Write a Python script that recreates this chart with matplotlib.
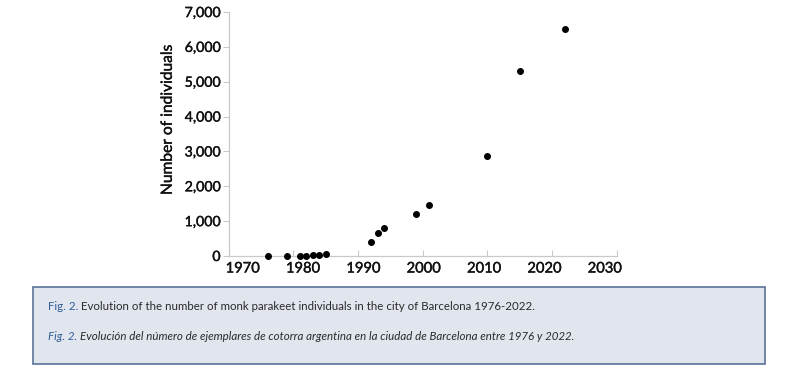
import matplotlib.pyplot as plt
import matplotlib.transforms as mtransforms
import matplotlib.patheffects as pe
from matplotlib.patches import Rectangle

years = [1976, 1979, 1981, 1982, 1983, 1984, 1985, 1992, 1993, 1994,
         1999, 2001, 2010, 2015, 2022]
counts = [10, 10, 10, 12, 18, 35, 60, 400, 660, 810,
          1200, 1460, 2880, 5300, 6500]
xticks = [1970, 1980, 1990, 2000, 2010, 2020, 2030]
yticks = [0, 1000, 2000, 3000, 4000, 5000, 6000, 7000]

caption_en = "Evolution of the number of monk parakeet individuals in the city of Barcelona 1976-2022."
caption_es = "Evolución del número de ejemplares de cotorra argentina en la ciudad de Barcelona entre 1976 y 2022."

plt.rcParams['font.family'] = ['Lato', 'DejaVu Sans']

fig = plt.figure(figsize=(8, 3.77), dpi=100)
ax = fig.add_axes([0.286, 0.321, 0.485, 0.647])

ax.scatter(years, counts, s=16, color='black', zorder=3, clip_on=False)
ax.set_xlim(1970, 2030)
ax.set_ylim(0, 7000)
ax.set_xticks(xticks)
ax.set_yticks(yticks)
ax.set_yticklabels([f'{v:,}' for v in yticks])
for s in ['top', 'right']:
    ax.spines[s].set_visible(False)
for s in ['left', 'bottom']:
    ax.spines[s].set_color('#c9c9c9')
    ax.spines[s].set_linewidth(0.9)
ax.tick_params(axis='y', colors='#c9c9c9', labelcolor='#111111', length=4,
               labelsize=10.2, pad=2)
ax.tick_params(axis='x', colors='#c9c9c9', labelcolor='#111111', length=4,
               direction='in', labelsize=10.6, pad=4)
heavy = [pe.withStroke(linewidth=0.28, foreground='#111111')]
for lab in ax.get_xticklabels() + ax.get_yticklabels():
    lab.set_path_effects(heavy)
yl = ax.set_ylabel('Number of individuals', fontsize=11.2, color='#111111')
yl.set_path_effects(heavy)
ax.yaxis.set_label_coords(-0.139, 0.557)

# the original's year labels sit slightly squeezed toward the centre
for lab, yr in zip(ax.get_xticklabels(), xticks):
    dx = (1 - (yr - 2000) * 0.43) / 100
    lab.set_transform(lab.get_transform() +
                      mtransforms.ScaledTranslation(dx, 0, fig.dpi_scale_trans))

# caption box
W, H = 800, 377
box = Rectangle((33 / W, 1 - 364 / H), (765 - 33) / W, (364 - 287) / H,
                transform=fig.transFigure, facecolor='#e1e5ee',
                edgecolor='#5a7298', linewidth=1.2)
fig.patches.append(box)

blue = '#2e5d98'
grey = '#2a2a2a'
for ytop, txt, style in [(307, caption_en, 'normal'), (336, caption_es, 'italic')]:
    t = fig.text(48 / W, 1 - ytop / H, 'Fig. 2.', fontsize=8.3, color=blue,
                 style=style, va='center', ha='left')
    fig.canvas.draw()
    bb = t.get_window_extent()
    fig.text((bb.x1 + 3) / W, 1 - ytop / H, txt, fontsize=8.3, color=grey,
             style=style, va='center', ha='left')

fig.savefig('out.png', dpi=100)
